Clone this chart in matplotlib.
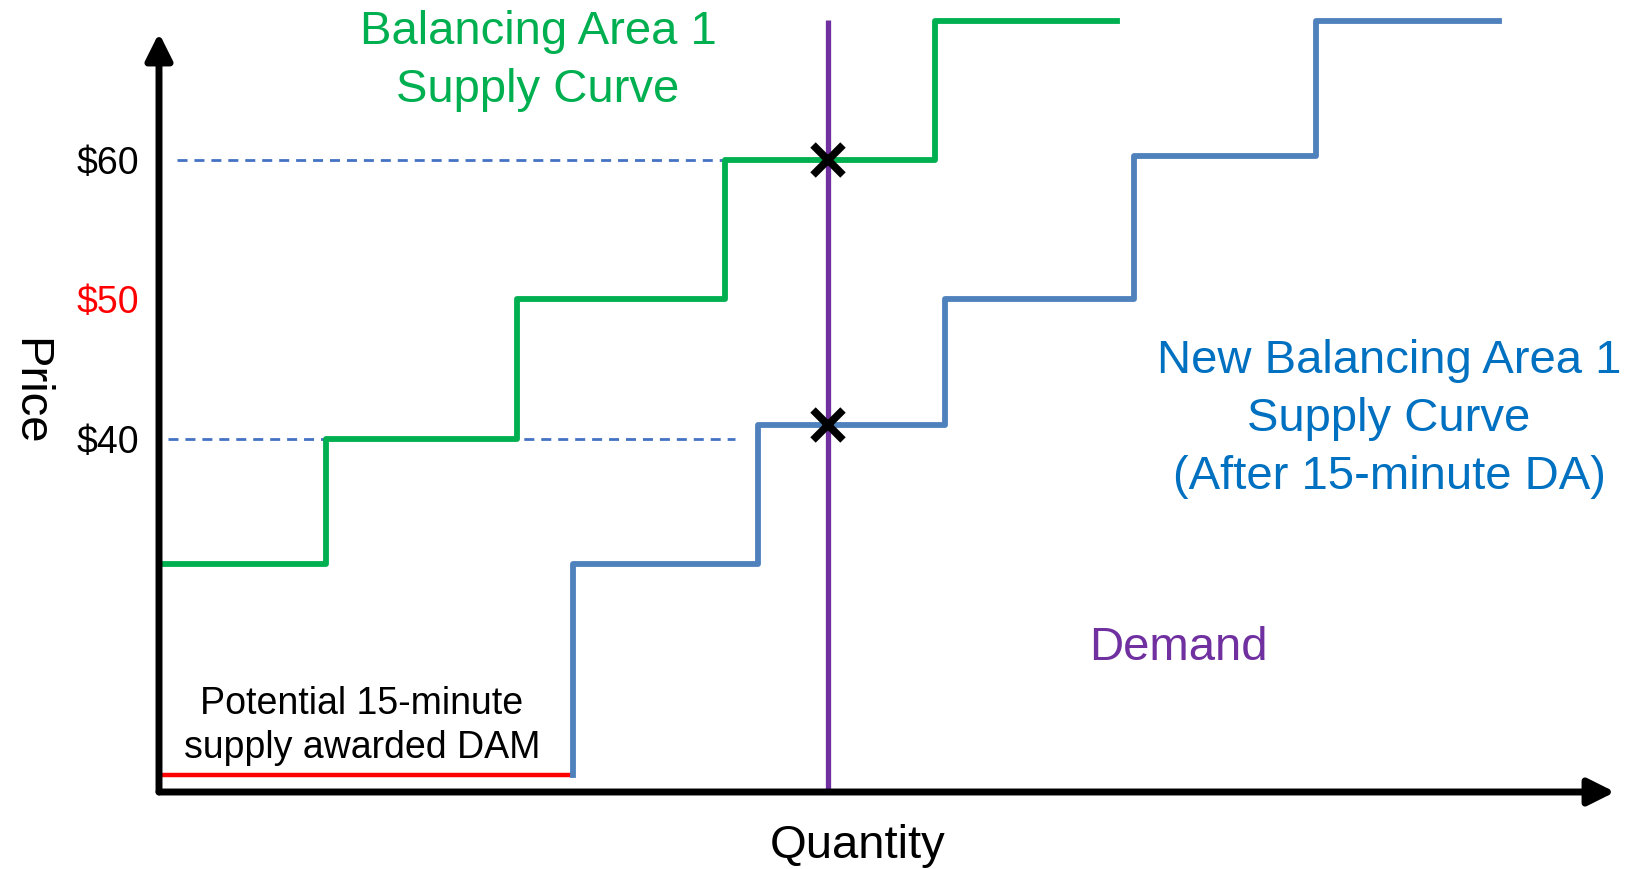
import numpy as np
import matplotlib.pyplot as plt

plt.rcParams['font.family'] = ['Liberation Sans', 'DejaVu Sans']

# supply curves (quantity breakpoints, price levels)
green_q = [0.2, 16.1, 34.5, 54.5, 74.7, 92.2]
green_p = [31, 40, 50, 60, 70]

blue_q = [39.9, 57.7, 75.7, 93.9, 111.4, 129.0]
blue_p = [31, 41, 50, 60.3, 70]

# 15-minute supply already awarded in DAM
dam_q = [0.2, 39.9]
dam_p = 15.8

demand_q = 64.4
price_ticks = [40, 50, 60]
tick_labels = ['$40', '$50', '$60']

q_max = 140.2
p_min, p_max = 14.6, 69.15

GREEN = '#00B050'
BLUE = '#4F81BD'
TXT_BLUE = '#0070C0'
PURPLE = '#7030A0'
W, H = 1628, 869

fig = plt.figure(figsize=(W / 100, H / 100), dpi=100)
ax = fig.add_axes([159 / W, 77 / H, (1615 - 159) / W, (792 - 33) / H])
ax.set_xlim(0, q_max)
ax.set_ylim(p_min, p_max)
for s in ax.spines.values():
    s.set_visible(False)
ax.set_xticks([])
ax.set_yticks(price_ticks)
ax.set_yticklabels(tick_labels, fontsize=27)
ax.tick_params(axis='y', length=0, pad=14)
ax.get_yticklabels()[1].set_color('red')

# axes arrows
arrow = dict(arrowstyle='-|>', lw=5, color='black', mutation_scale=40,
             shrinkA=0, shrinkB=0)
ax.annotate('', xy=(q_max, p_min), xytext=(0, p_min), arrowprops=arrow,
            annotation_clip=False)
ax.annotate('', xy=(0, p_max), xytext=(0, p_min), arrowprops=arrow,
            annotation_clip=False)

# dashed price guides
ax.hlines(60, 1.7, 54.4, colors='#4472C4', linestyles=(0, (3.6, 2.5)), lw=2)
ax.hlines(40, 0.9, 55.5, colors='#4472C4', linestyles=(0, (3.6, 2.5)), lw=2)

# green: original supply curve
ax.step(green_q, green_p + [green_p[-1]], where='post', color=GREEN, lw=4.2,
        clip_on=False)

# red DAM segment, then new (blue) supply curve
ax.hlines(dam_p, dam_q[0], dam_q[1], colors='red', lw=3.2)
bq = [blue_q[0]] + blue_q
bp = [dam_p] + blue_p + [blue_p[-1]]
ax.step(bq, bp, where='post', color=BLUE, lw=4.2, clip_on=False)

# vertical demand
ax.vlines(demand_q, p_min, 70.1, colors=PURPLE, lw=3.8, clip_on=False)

# clearing points
for q, p in [(green_q, green_p), (blue_q, blue_p)]:
    i = np.searchsorted(q, demand_q) - 1
    ax.plot(demand_q, p[i], marker='x', color='black', markersize=22, mew=5.5,
            clip_on=False, zorder=5)

def ftext(x, y, s, **kw):
    fig.text(x / W, 1 - y / H, s, ha='center', va='center',
             multialignment='center', **kw)

ftext(538, 61, 'Balancing Area 1\nSupply Curve', color=GREEN, fontsize=34,
      linespacing=1.4)
ftext(1389, 419, 'New Balancing Area 1\nSupply Curve\n(After 15-minute DA)',
      color=TXT_BLUE, fontsize=34, linespacing=1.4)
ftext(1178, 648, 'Demand', color=PURPLE, fontsize=34)
ftext(362, 726, 'Potential 15-minute\nsupply awarded DAM', color='black',
      fontsize=27, linespacing=1.25)
ftext(29, 392, 'Price', color='black', fontsize=34, rotation=-90)
ftext(858, 846, 'Quantity', color='black', fontsize=34)

fig.savefig('out.png', dpi=100)
